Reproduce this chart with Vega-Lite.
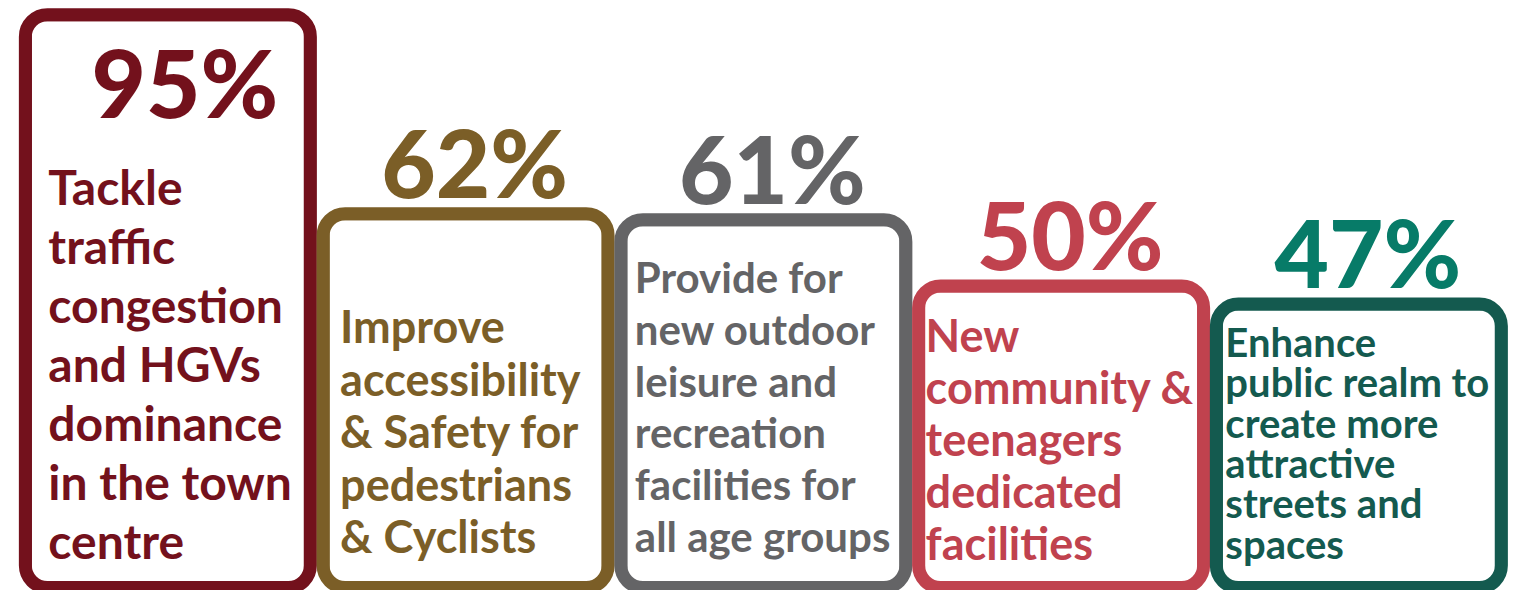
{
  "$schema": "https://vega.github.io/schema/vega-lite/v6.json",
  "width": 1519,
  "height": 590,
  "padding": 0,
  "autosize": {"type": "none"},
  "background": "white",
  "config": {"view": {"stroke": null}, "text": {"font": "Lato", "fontWeight": "bold"}},
  "data": {
    "values": [
      {"cat": "A", "pct": 95, "label": "95%", "body": "Tackle|traffic|congestion|and HGVs|dominance|in the town|centre"},
      {"cat": "B", "pct": 62, "label": "62%", "body": "Improve|accessibility|& Safety for|pedestrians|& Cyclists"},
      {"cat": "C", "pct": 61, "label": "61%", "body": "Provide for|new outdoor|leisure and|recreation|facilities for|all age groups"},
      {"cat": "D", "pct": 50, "label": "50%", "body": "New|community &|teenagers|dedicated|facilities"},
      {"cat": "E", "pct": 47, "label": "47%", "body": "Enhance|public realm to|create more|attractive|streets and|spaces"}
    ]
  },
  "encoding": {
    "x": {"field": "cat", "type": "nominal", "axis": null, "sort": null,
      "scale": {"paddingInner": 0.0428, "paddingOuter": 0.0722, "align": 0.59}},
    "color": {"field": "cat", "type": "nominal", "legend": null,
      "scale": {"domain": ["A", "B", "C", "D", "E"], "range": ["#73111c", "#7b5e27", "#646466", "#c0424e", "#145a4f"]}}
  },
  "layer": [
    {
      "mark": {"type": "bar", "fill": "white", "strokeWidth": 13, "cornerRadius": 22},
      "encoding": {
        "y": {"field": "pct", "type": "quantitative", "axis": null,
          "scale": {"domain": [-0.41, 97.43], "nice": false, "zero": false}},
        "stroke": {"field": "cat", "type": "nominal", "legend": null,
          "scale": {"domain": ["A", "B", "C", "D", "E"], "range": ["#73111c", "#7b5e27", "#646466", "#c0424e", "#145a4f"]}},
        "color": {"value": "white"}
      }
    },
    {
      "transform": [{"filter": "datum.pct < 90"}],
      "mark": {"type": "text", "fontSize": 94, "fontWeight": 900, "align": "center", "baseline": "alphabetic", "dx": 9, "dy": -16},
      "encoding": {
        "y": {"field": "pct", "type": "quantitative"},
        "text": {"field": "label"},
        "color": {"condition": {"test": "datum.cat === 'E'", "value": "#077b68"}, "field": "cat", "type": "nominal", "legend": null}
      }
    },
    {
      "transform": [{"filter": "datum.pct >= 90"}],
      "mark": {"type": "text", "fontSize": 94, "fontWeight": 900, "align": "center", "baseline": "alphabetic", "dx": 17, "dy": 103},
      "encoding": {
        "y": {"field": "pct", "type": "quantitative"},
        "text": {"field": "label"}
      }
    },
    {
      "transform": [{"filter": "datum.cat === 'A'"}],
      "mark": {"type": "text", "fontSize": 48, "lineHeight": 59, "lineBreak": "|", "align": "left", "baseline": "alphabetic", "dx": 23, "dy": -382.5},
      "encoding": {
        "x": {"field": "cat", "type": "nominal", "bandPosition": 0},
        "y": {"datum": 0},
        "text": {"field": "body"}
      }
    },
    {
      "transform": [{"filter": "datum.cat === 'B'"}],
      "mark": {"type": "text", "fontSize": 45, "lineHeight": 52.5, "lineBreak": "|", "align": "left", "baseline": "alphabetic", "dx": 17, "dy": -244.5},
      "encoding": {
        "x": {"field": "cat", "type": "nominal", "bandPosition": 0},
        "y": {"datum": 0},
        "text": {"field": "body"}
      }
    },
    {
      "transform": [{"filter": "datum.cat === 'C'"}],
      "mark": {"type": "text", "fontSize": 42, "lineHeight": 51.8, "lineBreak": "|", "align": "left", "baseline": "alphabetic", "dx": 14, "dy": -294.5},
      "encoding": {
        "x": {"field": "cat", "type": "nominal", "bandPosition": 0},
        "y": {"datum": 0},
        "text": {"field": "body"}
      }
    },
    {
      "transform": [{"filter": "datum.cat === 'D'"}],
      "mark": {"type": "text", "fontSize": 45, "lineHeight": 52, "lineBreak": "|", "align": "left", "baseline": "alphabetic", "dx": 7, "dy": -235.5},
      "encoding": {
        "x": {"field": "cat", "type": "nominal", "bandPosition": 0},
        "y": {"datum": 0},
        "text": {"field": "body"}
      }
    },
    {
      "transform": [{"filter": "datum.cat === 'E'"}],
      "mark": {"type": "text", "fontSize": 40, "lineHeight": 40.3, "lineBreak": "|", "align": "left", "baseline": "alphabetic", "dx": 9, "dy": -230.5},
      "encoding": {
        "x": {"field": "cat", "type": "nominal", "bandPosition": 0},
        "y": {"datum": 0},
        "text": {"field": "body"}
      }
    }
  ]
}
